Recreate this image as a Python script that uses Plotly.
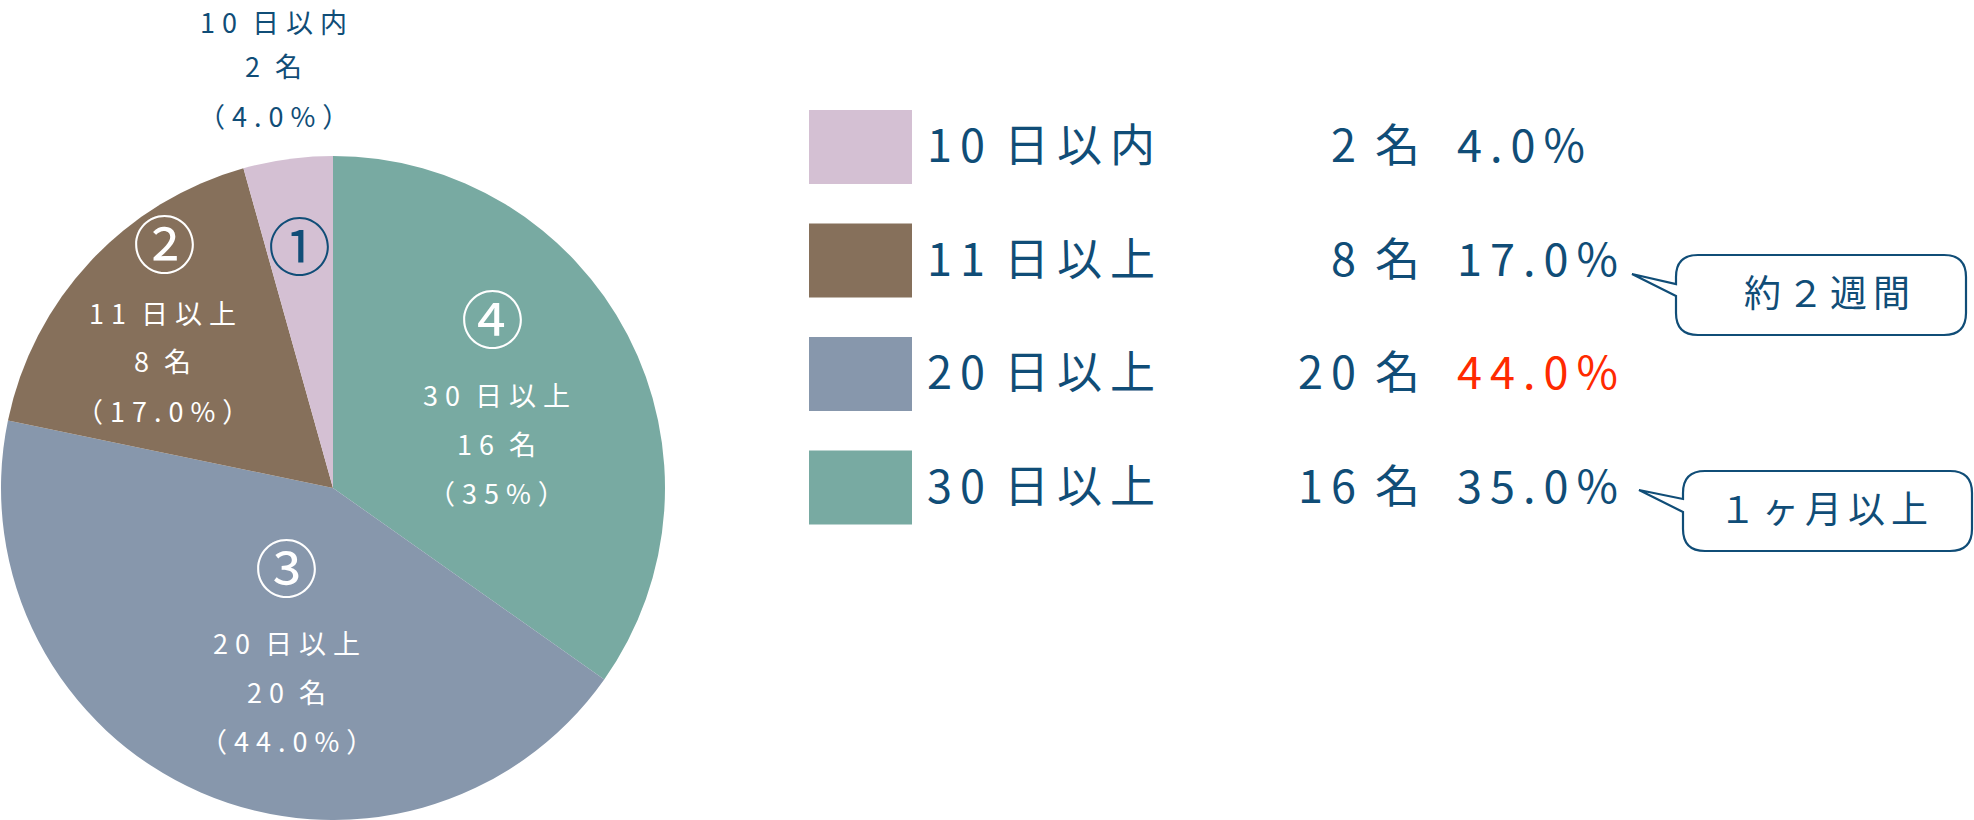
import plotly.graph_objects as go

# ---- data ----
categories = ["10日以内", "11日以上", "20日以上", "30日以上"]
counts = [2, 8, 20, 16]
pct_legend = ["4.0%", "17.0%", "44.0%", "35.0%"]
pct_pie = ["4.0%", "17.0%", "44.0%", "35%"]
circled = ["①", "②", "③", "④"]
colors = ["#d4c0d3", "#86705b", "#8797ac", "#78aaa2"]
pct_colors = ["#104d77", "#104d77", "#ff2a00", "#104d77"]
callouts = ["約２週間", "１ヶ月以上"]

W, H = 1974, 820
TXT = "#104d77"
FONT = "Noto Sans CJK JP"


def X(px):
    return px / W


def Y(py):
    return 1 - py / H


def spaced(t, sp, extra):
    """letter-spaced text; a bit more room between a digit and a following kanji"""
    groups = []
    for i, c in enumerate(t):
        nxt = t[i + 1] if i + 1 < len(t) else ""
        s = sp + (extra if c.isdigit() and nxt and "\u4e00" <= nxt <= "\u9fff" else 0)
        if groups and groups[-1][0] == s:
            groups[-1][1] += c
        else:
            groups.append([s, c])
    return "".join(f'<span style="letter-spacing:{s}px">{g}</span>' for s, g in groups)


fig = go.Figure()
fig.add_trace(go.Pie(
    labels=categories[::-1], values=counts[::-1], sort=False,
    direction="clockwise", rotation=0,
    marker=dict(colors=colors[::-1], line=dict(width=0)),
    textinfo="none", hoverinfo="label+value+percent", showlegend=False,
    domain=dict(x=[0, X(666)], y=[0, Y(156)]),
))

ann = []
shapes = []

# ---- pie labels ----
lab_cfg = [  # (circle x, circle y, text x, line y positions, text color)
    (299, 247, 277, [21, 66, 115], TXT),
    (164, 245, 166, [312, 361, 410], "white"),
    (286, 569, 290, [642, 691, 740], "white"),
    (492, 320, 500, [394, 443, 492], "white"),
]
for i, (cx, cy, tx, tys, tc) in enumerate(lab_cfg):
    ann.append(dict(x=X(cx), y=Y(cy - 5), xref="paper", yref="paper", text=circled[i],
                    showarrow=False, font=dict(family=FONT, size=63, color=tc),
                    xanchor="center", yanchor="middle"))
    lines = [categories[i], f"{counts[i]}名", f"（{pct_pie[i]}）"]
    for t, ty in zip(lines, tys):
        ann.append(dict(x=X(tx), y=Y(ty), xref="paper", yref="paper",
                        text=spaced(t, 7, 8), showarrow=False,
                        font=dict(family=FONT, size=27, color=tc),
                        xanchor="center", yanchor="middle"))

# ---- legend table ----
row0, step = 147, 113.5
for i in range(len(categories)):
    cy = row0 + step * i
    shapes.append(dict(type="rect", xref="paper", yref="paper",
                       x0=X(809), x1=X(912), y0=Y(cy - 37), y1=Y(cy + 37),
                       fillcolor=colors[i], line=dict(width=0)))
    ty = cy - 4
    ann.append(dict(x=X(925), y=Y(ty), xref="paper", yref="paper",
                    text=spaced(categories[i], 8, 11), showarrow=False,
                    font=dict(family=FONT, size=45, color=TXT),
                    xanchor="left", yanchor="middle"))
    ann.append(dict(x=X(1430), y=Y(ty), xref="paper", yref="paper",
                    text=spaced(f"{counts[i]}名", 8, 11), showarrow=False,
                    font=dict(family=FONT, size=45, color=TXT),
                    xanchor="right", yanchor="middle"))
    ann.append(dict(x=X(1455), y=Y(ty), xref="paper", yref="paper",
                    text=spaced(pct_legend[i], 8, 0), showarrow=False,
                    font=dict(family=FONT, size=45, color=pct_colors[i]),
                    xanchor="left", yanchor="middle"))

# ---- callout bubbles ----
bub = [  # x0, x1, y0, y1, tip x, tip y, attach top, attach bottom, text centre x
    (1676, 1966, 255, 335, 1632, 274, 284, 296, 1830),
    (1683, 1972, 471, 551, 1639, 490, 499, 512, 1826),
]
for k, (x0, x1, y0, y1, tx, ty, a1, a2, cx) in enumerate(bub):
    r = 22
    p = (f"M {X(x0)},{Y(a2)} L {X(tx)},{Y(ty)} L {X(x0)},{Y(a1)} "
         f"L {X(x0)},{Y(y0 + r)} Q {X(x0)},{Y(y0)} {X(x0 + r)},{Y(y0)} "
         f"L {X(x1 - r)},{Y(y0)} Q {X(x1)},{Y(y0)} {X(x1)},{Y(y0 + r)} "
         f"L {X(x1)},{Y(y1 - r)} Q {X(x1)},{Y(y1)} {X(x1 - r)},{Y(y1)} "
         f"L {X(x0 + r)},{Y(y1)} Q {X(x0)},{Y(y1)} {X(x0)},{Y(y1 - r)} Z")
    shapes.append(dict(type="path", xref="paper", yref="paper", path=p,
                       fillcolor="white", line=dict(color=TXT, width=2.2)))
    ann.append(dict(x=X(cx), y=Y((y0 + y1) / 2 - 4), xref="paper", yref="paper",
                    text=spaced(callouts[k], 6, 0), showarrow=False,
                    font=dict(family=FONT, size=37, color=TXT),
                    xanchor="center", yanchor="middle"))

fig.update_layout(
    width=W, height=H, margin=dict(l=0, r=0, t=0, b=0),
    paper_bgcolor="white", plot_bgcolor="white",
    annotations=ann, shapes=shapes,
    xaxis=dict(visible=False), yaxis=dict(visible=False),
)
fig.write_html("out.html", config={"displayModeBar": False},
               post_script="document.body.style.margin='0';")
